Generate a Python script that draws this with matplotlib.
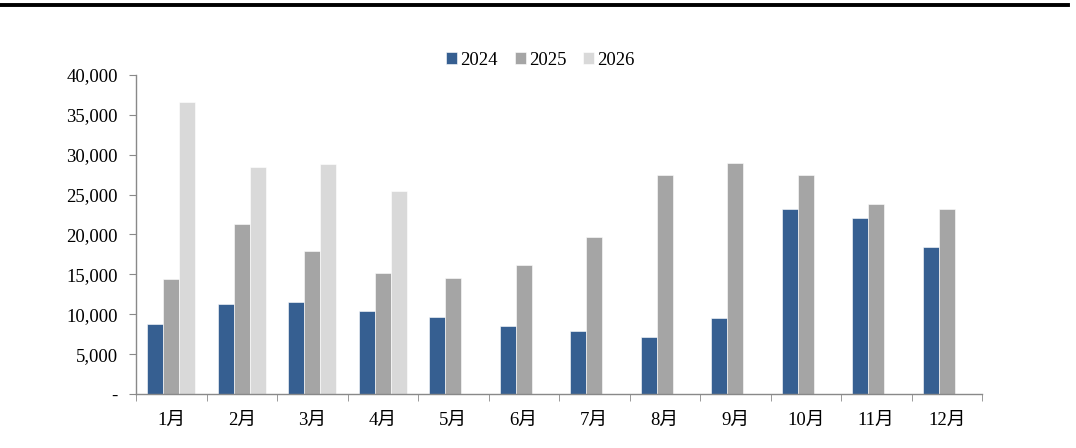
import matplotlib.pyplot as plt
import numpy as np
from matplotlib.lines import Line2D
from matplotlib.ticker import FuncFormatter

plt.rcParams['font.family'] = ['Liberation Serif', 'Noto Sans CJK SC', 'DejaVu Sans']

# Data
months = ['1月', '2月', '3月', '4月', '5月', '6月', '7月', '8月', '9月', '10月', '11月', '12月']
v2024 = [8800, 11250, 11500, 10400, 9700, 8500, 7900, 7200, 9500, 23200, 22100, 18400]
v2025 = [14400, 21300, 17900, 15200, 14500, 16200, 19700, 27450, 29000, 27400, 23800, 23200]
v2026 = [36650, 28450, 28900, 25400]

colors = ['#365F91', '#A5A5A5', '#D9D9D9']

fig = plt.figure(figsize=(10.76, 4.48), dpi=100)
ax = fig.add_axes([136 / 1076, 54 / 448, 846 / 1076, 319 / 448])

x = np.arange(len(months))
w = 0.227
ax.bar(x - w, v2024, w, color=colors[0], label='2024', edgecolor='white', linewidth=0.4)
ax.bar(x, v2025, w, color=colors[1], label='2025', edgecolor='white', linewidth=0.4)
ax.bar(x[:len(v2026)] + w, v2026, w, color=colors[2], label='2026', edgecolor='white', linewidth=0.4)

ax.set_xlim(-0.5, len(months) - 0.5)
ax.set_ylim(0, 40000)
ax.set_yticks(np.arange(0, 40001, 5000))
ax.yaxis.set_major_formatter(FuncFormatter(lambda v, p: '-' if v == 0 else f'{int(v):,}'))

ax.set_xticks(x)
ax.set_xticklabels(months)
ax.set_xticks(np.arange(-0.5, len(months), 1), minor=True)
ax.tick_params(axis='x', which='major', length=0, pad=13, labelsize=13.5)
ax.tick_params(axis='x', which='minor', length=5, color='#898989', direction='out')
ax.tick_params(axis='y', length=5, color='#898989', direction='out', pad=8, labelsize=13.5)

for s in ['top', 'right']:
    ax.spines[s].set_visible(False)
for s in ['left', 'bottom']:
    ax.spines[s].set_color('#898989')
    ax.spines[s].set_linewidth(1.0)

ax.legend(loc='lower center', bbox_to_anchor=(0.478, 0.99), ncol=3, frameon=False,
          fontsize=13.5, handlelength=0.6, handleheight=0.6, handletextpad=0.15,
          columnspacing=0.9, borderaxespad=0.1)

fig.add_artist(Line2D([0, 1068 / 1076], [1 - 5 / 448, 1 - 5 / 448], color='black', linewidth=2.8,
                      transform=fig.transFigure))

fig.savefig('out.png', dpi=100)
